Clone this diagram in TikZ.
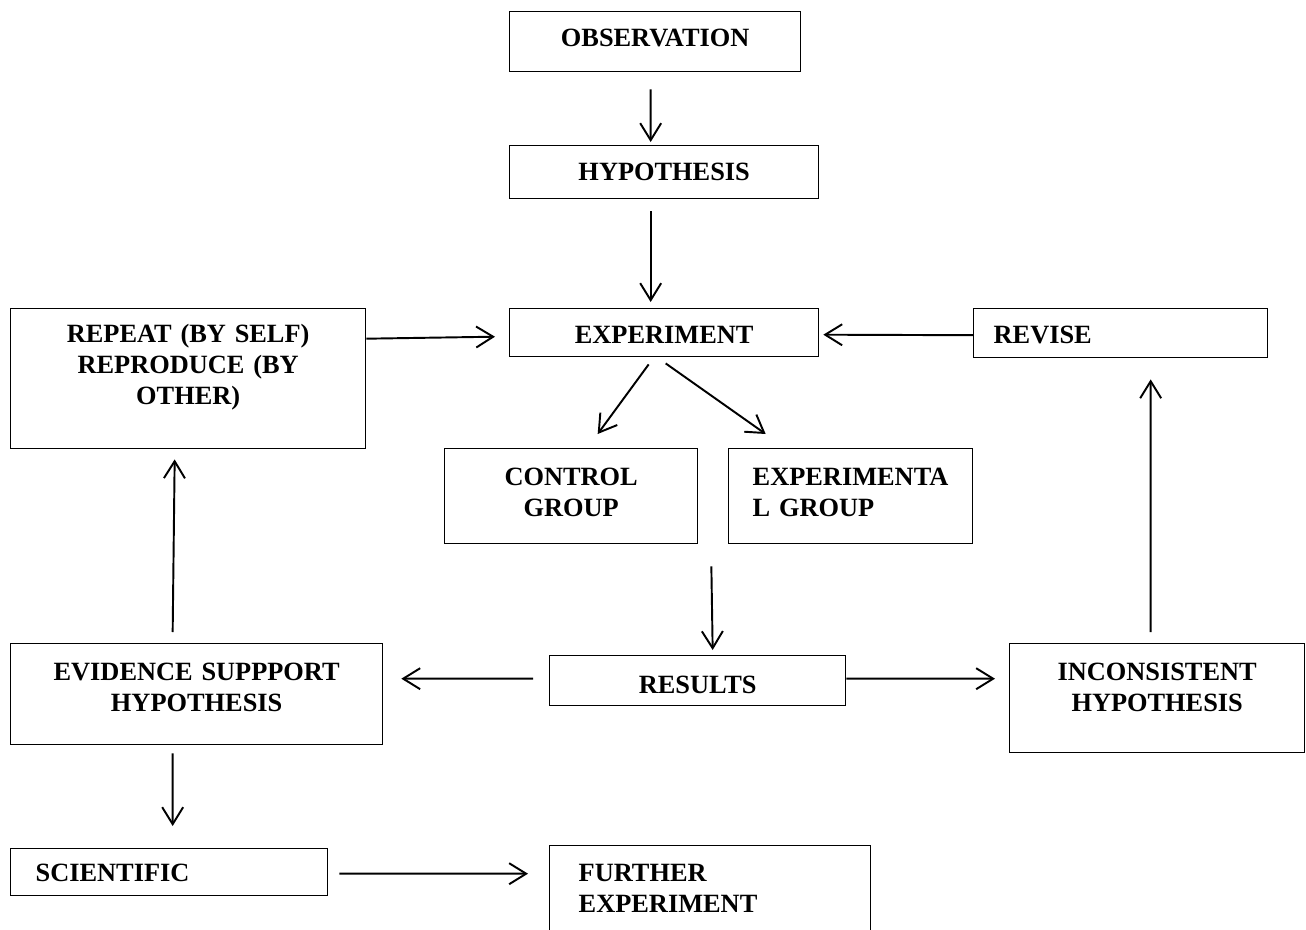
\documentclass[tikz,border=0pt]{standalone}
\usepackage{fontspec}
\setmainfont{Liberation Serif}
\usetikzlibrary{arrows.meta}

\begin{document}
\begin{tikzpicture}[x=0.02cm, y=-0.02cm,
    box/.style={draw, line width=0.8pt, inner xsep=0pt, inner ysep=0pt, align=center, anchor=north west,
        font=\fontsize{15}{17.6}\selectfont\bfseries},
    arr/.style={line width=1.1pt, -{Straight Barb[length=0.34cm, width=0.42cm]}}]
    \clip (0,0) rectangle (1306,930);

    % Main chain
    \node[box, text width=5.82cm, text height=0.70cm, text depth=0.50cm] (obs) at (509,11) {OBSERVATION};
    \node[box, text width=6.18cm, text height=0.70cm, text depth=0.36cm] (hyp) at (509,145) {HYPOTHESIS};
    \node[box, text width=6.18cm, text height=0.70cm, text depth=0.26cm] (exp) at (509,308) {EXPERIMENT};
    \node[box, align=left, inner xsep=0.4cm, text width=5.08cm, text height=0.70cm, text depth=0.28cm] (rev) at (973,308) {REVISE};
    \node[box, text width=7.10cm, text height=0.68cm, text depth=2.12cm] (rep) at (10,308) {REPEAT (BY SELF)\\REPRODUCE (BY\\OTHER)};

    % The two groups
    \node[box, text width=5.06cm, text height=0.74cm, text depth=1.16cm] (ctrl) at (444,448) {CONTROL\\GROUP};
    \node[box, align=left, inner xsep=0.48cm, text width=3.92cm, text height=0.74cm, text depth=1.16cm] (exptl) at (728,448) {EXPERIMENTA\\L GROUP};

    % Results and what follows
    \node[box, text width=5.92cm, text height=0.76cm, text depth=0.24cm] (res) at (549,655) {RESULTS};
    \node[box, text width=7.44cm, text height=0.74cm, text depth=1.28cm] (evi) at (10,643) {EVIDENCE SUPPPORT\\HYPOTHESIS};
    \node[box, text width=5.90cm, text height=0.74cm, text depth=1.44cm] (inc) at (1009,643) {INCONSISTENT\\HYPOTHESIS};
    \node[box, align=left, inner xsep=0.5cm, text width=5.34cm, text height=0.66cm, text depth=0.28cm] (sci) at (10,848) {SCIENTIFIC};
    \node[box, align=left, inner xsep=0.58cm, text width=5.26cm, text height=0.72cm, text depth=1.28cm] (fur) at (549,845) {FURTHER\\EXPERIMENT};

    % Arrows
    \draw[arr] ([shift={(-4.5,17)}]obs.south) -- ([shift={(-13.5,-3)}]hyp.north);
    \draw[arr] ([shift={(-13.5,12)}]hyp.south) -- ([shift={(-13.5,-6)}]exp.north);
    \draw[arr] ([shift={(0,-40)}]rep.east) -- ([shift={(-14,4)}]exp.west);
    \draw[arr] ([shift={(0,2)}]rev.west) -- ([shift={(4,2)}]exp.east);
    \draw[arr] ([shift={(-15.5,7)}]exp.south) -- ([shift={(26.5,-14)}]ctrl.north);
    \draw[arr] ([shift={(1.5,6)}]exp.south) -- ([shift={(-85,-14)}]exptl.north);
    \draw[arr] ([shift={(13,22)}]ctrl.south east) -- ([shift={(15,-5)}]res.north);
    \draw[arr] ([shift={(-16,-2)}]res.west) -- ([shift={(18,-15.5)}]evi.east);
    \draw[arr] ([shift={(0,-2)}]res.east) -- ([shift={(-14,-19.5)}]inc.west);
    \draw[arr] ([shift={(-24,-11)}]evi.north) -- ([shift={(-13.5,10)}]rep.south);
    \draw[arr] ([shift={(-6.5,-11)}]inc.north) -- ([shift={(30,21)}]rev.south);
    \draw[arr] ([shift={(-24,8)}]evi.south) -- ([shift={(3.5,-22)}]sci.north);
    \draw[arr] ([shift={(11,1.5)}]sci.east) -- ([shift={(-21,-22)}]fur.west);
\end{tikzpicture}
\end{document}
